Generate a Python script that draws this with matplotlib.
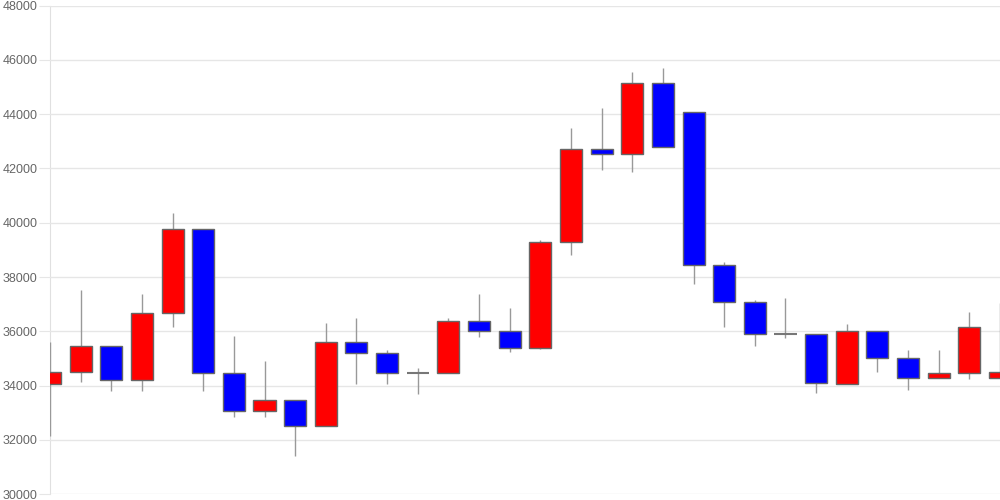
import matplotlib
matplotlib.use("Agg")
import matplotlib.pyplot as plt

opens  = [34051, 34504, 35451, 34210, 36666, 39760, 34456, 33057, 33462, 32504,
          35609, 35204, 34460, 34456, 36371, 36003, 35400, 39303, 42706, 42544,
          45137, 44091, 38445, 37094, 35904, 35904, 34051, 36003, 35009, 34272,
          34456, 34272]
closes = [34504, 35451, 34210, 36666, 39760, 34456, 33057, 33462, 32504, 35609,
          35204, 34456, 34460, 36371, 36003, 35400, 39303, 42706, 42544, 45137,
          42791, 38445, 37094, 35904, 35904, 34111, 36003, 35009, 34272, 34456,
          36150, 34515]
highs  = [35598, 37524, 35451, 37366, 40371, 39760, 35819, 34909, 33462, 36309,
          36504, 35315, 34651, 36504, 37366, 36861, 39366, 43490, 44239, 45553,
          45700, 44091, 38544, 37156, 37218, 35904, 36272, 36003, 35315, 35315,
          36714, 37034]
lows   = [32158, 34147, 33815, 33815, 36150, 33815, 32858, 32858, 31422, 32504,
          34062, 34062, 33705, 34456, 35805, 35252, 35363, 38805, 41955, 41881,
          42791, 37756, 36150, 35451, 35757, 33742, 34051, 34504, 33853, 34272,
          34257, 34272]
yticks = [30000, 32000, 34000, 36000, 38000, 40000, 42000, 44000, 46000, 48000]

fig = plt.figure(figsize=(10, 5), dpi=100)
ax = fig.add_axes([0.05, 0.0114, 0.95, 0.9776])

xs = list(range(len(opens)))
width = 0.72
for x, o, c, h, l in zip(xs, opens, closes, highs, lows):
    ax.vlines(x, l, h, color="#999999", linewidth=1, zorder=2.8)
    if c == o:
        ax.hlines(o, x - width / 2, x + width / 2, color="#777777", linewidth=1.5, zorder=3)
        continue
    color = "#ff0000" if c > o else "#0000ff"
    ax.bar(x, abs(c - o), bottom=min(o, c), width=width, color=color,
           edgecolor="#666666", linewidth=1, zorder=3)

ax.set_xlim(0, len(opens) - 1)
ax.set_ylim(30000, 48000)
ax.set_yticks(yticks)
ax.set_yticklabels([str(t) for t in yticks], fontsize=9, color="#666666",
                   family="Liberation Sans")
ax.set_xticks([])
ax.grid(axis="y", color="#e6e6e6", linewidth=1, zorder=0)
ax.tick_params(axis="y", length=8, color="#e6e6e6", pad=1)
for s in ["top", "right", "bottom"]:
    ax.spines[s].set_visible(False)
ax.spines["left"].set_color("#e0e0e0")
ax.spines["left"].set_zorder(1)

fig.savefig("out.png", dpi=100)
